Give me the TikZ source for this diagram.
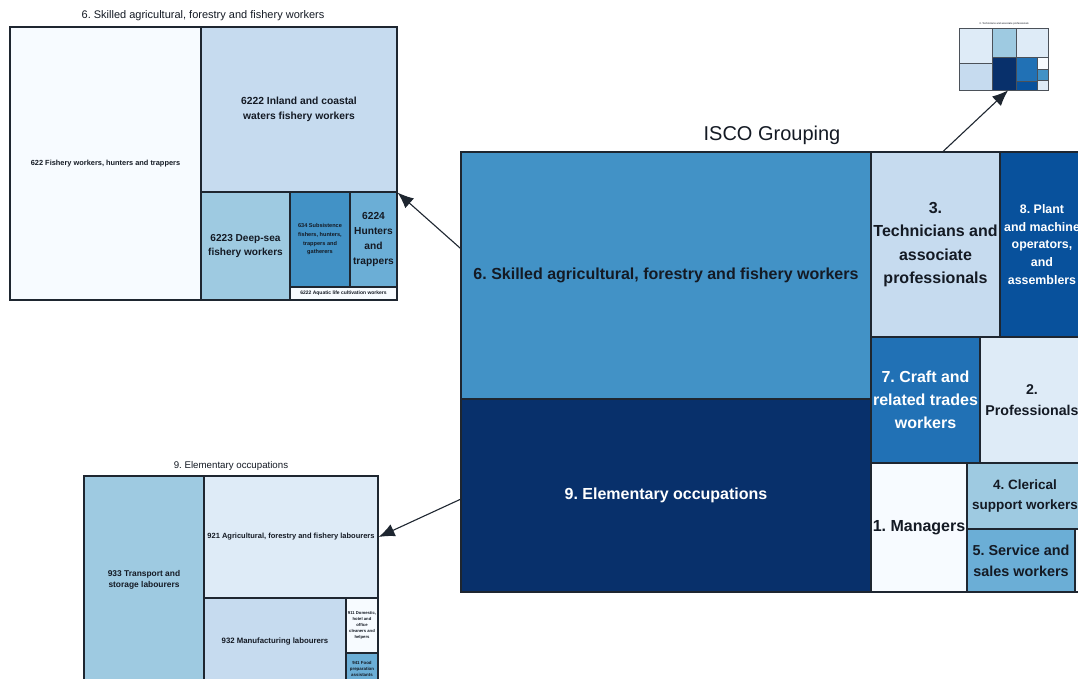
\documentclass[tikz,border=0pt]{standalone}
\usepackage{fontspec}
\setmainfont{Liberation Sans}
\usetikzlibrary{arrows.meta,calc}
\definecolor{b1}{HTML}{F7FBFF}
\definecolor{b2}{HTML}{DEEBF7}
\definecolor{b3}{HTML}{C6DBEF}
\definecolor{b4}{HTML}{9ECAE1}
\definecolor{b5}{HTML}{6BAED6}
\definecolor{b6}{HTML}{4292C6}
\definecolor{b7}{HTML}{2171B5}
\definecolor{b8}{HTML}{08519C}
\definecolor{b9}{HTML}{08306B}
\definecolor{edge}{HTML}{1E2630}
\definecolor{ink}{HTML}{141A24}
\frenchspacing

\begin{document}
\begin{tikzpicture}[
                x=1pt, y=-1pt,
                cell/.style={draw=edge, line width=1.6pt, inner sep=0pt, align=center, text=ink, font=\bfseries},
                sub/.style={cell, line width=1.2pt},
                thumb/.style={draw=edge!80, line width=.5pt, inner sep=0pt},
                wh/.style 2 args={minimum width=#1, minimum height=#2},
                fs/.style 2 args={font=\fontsize{#1}{#2}\selectfont\bfseries},
                heading/.style={inner sep=0pt, text=ink},
                arrow/.style={line width=1.1pt, draw=edge, ->, >={Latex[length=16pt,width=13pt]}}
            ]
                \clip (0,0) rectangle (1078,679);
                \fill[white] (0,0) rectangle (1078,679);

                % ISCO grouping
                \node[heading, font=\fontsize{20}{24}\selectfont] (isco) at (772,135) {ISCO Grouping};
                \node[cell, wh={410}{247}, fill=b6, fs={16}{20}] (skilled) at (666,275.5) {6. Skilled agricultural, forestry and fishery workers};
                \node[cell, wh={410}{193}, fill=b9, text=white, fs={16}{20}] (elem) at (666,495.5) {9. Elementary occupations};
                \node[cell, wh={129}{185}, fill=b3, fs={16}{23.3}] (tech) at (935.5,244.5) {3.\\Technicians and\\associate\\professionals};
                \node[cell, wh={84}{185}, fill=b8, text=white, fs={12.4}{17.7}] (plant) at (1042,244.5) {8. Plant\\and machine\\operators,\\and\\assemblers};
                \node[cell, wh={109}{126}, fill=b7, text=white, fs={16}{23}] (craft) at (925.5,400) {7. Craft and\\related trades\\workers};
                \node[cell, wh={104}{126}, fill=b2, fs={14.2}{21}] (prof) at (1032,400) {2.\\Professionals};
                \node[cell, wh={96}{129}, fill=b1, fs={16}{20}] (mgr) at (919,527.5) {1. Managers};
                \node[cell, wh={116}{66}, fill=b4, fs={13.5}{20}] (cler) at (1025,496) {4. Clerical\\support workers};
                \node[cell, wh={108}{63}, fill=b5, fs={14.4}{21}] (serv) at (1021,560.5) {5. Service and\\sales workers};
                \node[cell, wh={16}{63}, fill=b1] (rest) at (1083,560.5) {};

                % 6. Skilled agricultural, forestry and fishery workers
                \node[heading, font=\fontsize{11}{13}\selectfont] (head6) at (203,16) {6. Skilled agricultural, forestry and fishery workers};
                \node[sub, wh={191}{273}, fill=b1, fs={7.4}{9}] (c622) at (105.5,163.5) {622 Fishery workers, hunters and trappers};
                \node[sub, wh={196}{165}, fill=b3, fs={10.3}{15}] (c6222) at (299,109.5) {6222 Inland and coastal\\waters fishery workers};
                \node[sub, wh={89}{108}, fill=b4, fs={10.1}{14}] (c6223) at (245.5,246) {6223 Deep-sea\\fishery workers};
                \node[sub, wh={60}{95}, fill=b6, fs={5.6}{8.7}] (c634) at (320,239.5) {634 Subsistence\\fishers, hunters,\\trappers and\\gatherers};
                \node[sub, wh={47}{95}, fill=b5, fs={10.2}{15}] (c6224) at (373.5,239.5) {6224\\Hunters\\and\\trappers};
                \node[sub, wh={107}{13}, fill=b1, fs={5}{6}] (c6221) at (343.5,293.5) {6222 Aquatic life cultivation workers};

                % 9. Elementary occupations
                \node[heading, font=\fontsize{9.7}{12}\selectfont] (head9) at (231,466) {9. Elementary occupations};
                \node[sub, wh={120}{208}, fill=b4, fs={8.4}{11}] (c933) at (144,580) {933 Transport and\\storage labourers};
                \node[sub, wh={174}{122}, fill=b2, fs={7.5}{9}] (c921) at (291,537) {921 Agricultural, forestry and fishery labourers};
                \node[sub, wh={142}{86}, fill=b3, fs={7.8}{9}] (c932) at (275,641) {932 Manufacturing labourers};
                \node[sub, wh={32}{55}, fill=b1, fs={4.2}{6}] (c911) at (362,625.5) {911 Domestic,\\hotel and\\office\\cleaners and\\helpers};
                \node[sub, wh={32}{31}, fill=b5, fs={4.4}{6}] (c941) at (362,668.5) {941 Food\\preparation\\assistants};

                % 3. Technicians and associate professionals (thumbnail)
                \node[heading, font=\fontsize{2.6}{3}\selectfont] (head3) at (1004,24) {3. Technicians and associate professionals};
                \node[thumb, wh={33}{35}, fill=b2] (t1) at (975.5,45.5) {};
                \node[thumb, wh={33}{27}, fill=b3] (t2) at (975.5,76.5) {};
                \node[thumb, wh={24}{29}, fill=b4] (t3) at (1004,42.5) {};
                \node[thumb, wh={24}{33}, fill=b9] (t4) at (1004,73.5) {};
                \node[thumb, wh={32}{29}, fill=b2] (t5) at (1032,42.5) {};
                \node[thumb, wh={21}{24}, fill=b7] (t6) at (1026.5,69) {};
                \node[thumb, wh={21}{9}, fill=b8] (t7) at (1026.5,85.5) {};
                \node[thumb, wh={11}{12}, fill=b1] (t8) at (1042.5,63) {};
                \node[thumb, wh={11}{11}, fill=b6] (t9) at (1042.5,74.5) {};
                \node[thumb, wh={11}{10}, fill=b2] (t10) at (1042.5,85) {};

                \draw[arrow] ($(skilled.north west)!.39!(skilled.south west)$) -- (c6222.south east);
                \draw[arrow] ($(elem.north west)!.52!(elem.south west)$) -- (c921.east);
                \draw[arrow] ($(tech.north west)!.56!(tech.north east)$) -- ($(t4.south west)!.67!(t4.south east)$);
            \end{tikzpicture}
\end{document}
